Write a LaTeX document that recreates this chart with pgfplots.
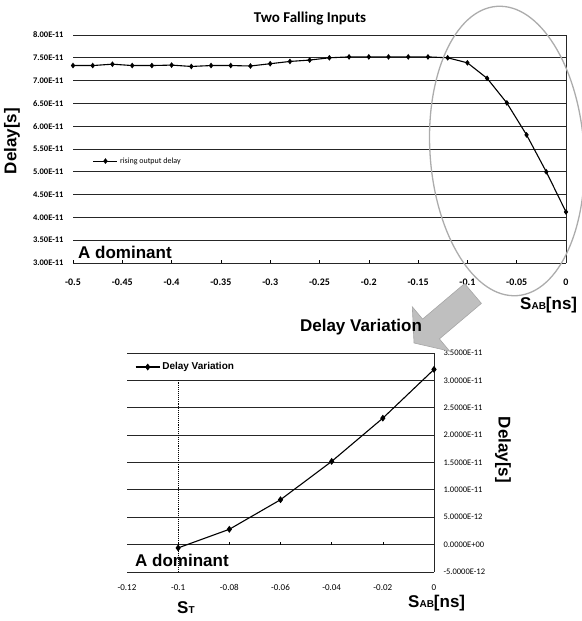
\documentclass[border=0pt]{standalone}
\usepackage{pgfplots}
\pgfplotsset{compat=1.18}
\usepackage{fontspec}
\setmainfont{Liberation Sans}
\newfontfamily\carlito{Carlito}
\newfontfamily\arial{Liberation Sans}

\begin{document}
\begin{tikzpicture}[x=1pt,y=1pt]
\useasboundingbox (0,0) rectangle (581,621);

% ---------------- top chart ----------------
\begin{axis}[
  at={(73pt,358pt)}, anchor=south west, scale only axis,
  width=493pt, height=228pt,
  xmin=-0.5, xmax=0, ymin=3, ymax=8,
  xtick={-0.5,-0.45,-0.4,-0.35,-0.3,-0.25,-0.2,-0.15,-0.1,-0.05,0},
  xticklabels={-0.5,-0.45,-0.4,-0.35,-0.3,-0.25,-0.2,-0.15,-0.1,-0.05,0},
  ytick={3,3.5,4,4.5,5,5.5,6,6.5,7,7.5,8},
  yticklabels={3.00E-11,3.50E-11,4.00E-11,4.50E-11,5.00E-11,5.50E-11,6.00E-11,6.50E-11,7.00E-11,7.50E-11,8.00E-11},
  ymajorgrids, grid style={black!85, line width=0.8pt},
  axis line style={draw=none},
  xtick pos=left, xtick align=inside, major tick length=3pt,
  xtick style={black, line width=0.6pt},
  ytick style={draw=none},
  xticklabel style={font=\carlito\bfseries\fontsize{10}{10}\selectfont, yshift=-12pt},
  yticklabel style={font=\carlito\bfseries\fontsize{8.5}{9}\selectfont, xshift=-6pt},
  clip=false,
  legend style={at={(0.04,0.447)}, anchor=west, draw=none, fill=none,
    font=\carlito\fontsize{8}{8}\selectfont, inner sep=0pt},
  legend image code/.code={\draw[mark repeat=2,mark phase=2] plot coordinates {(0pt,0pt) (12pt,0pt) (24pt,0pt)};},
]
\addplot[black, line width=1.1pt, mark=diamond*, mark size=2pt] coordinates {
(-0.50,7.33) (-0.48,7.33) (-0.46,7.36) (-0.44,7.33) (-0.42,7.33) (-0.40,7.34)
(-0.38,7.31) (-0.36,7.33) (-0.34,7.33) (-0.32,7.32) (-0.30,7.37) (-0.28,7.42)
(-0.26,7.45) (-0.24,7.50) (-0.22,7.52) (-0.20,7.52) (-0.18,7.52) (-0.16,7.52)
(-0.14,7.52) (-0.12,7.50) (-0.10,7.39) (-0.08,7.05) (-0.06,6.51) (-0.04,5.81)
(-0.02,5.00) (0,4.12)};
\addlegendentry{rising output delay}
\draw[black!85, line width=0.8pt] (rel axis cs:1,0) -- (rel axis cs:1,1);
\end{axis}

% ---------------- bottom chart ----------------
\begin{axis}[
  at={(127pt,49pt)}, anchor=south west, scale only axis,
  width=307pt, height=219pt,
  xmin=-0.12, xmax=0, ymin=-0.5, ymax=3.5,
  xtick={-0.12,-0.1,-0.08,-0.06,-0.04,-0.02,0},
  xticklabels={-0.12,-0.1,-0.08,-0.06,-0.04,-0.02,0},
  ytick={-0.5,0,0.5,1,1.5,2,2.5,3,3.5},
  yticklabels={-5.0000E-12,0.0000E+00,5.0000E-12,1.0000E-11,1.5000E-11,2.0000E-11,2.5000E-11,3.0000E-11,3.5000E-11},
  yticklabel pos=right,
  ymajorgrids, grid style={black!85, line width=0.8pt},
  axis line style={draw=none},
  xtick style={draw=none}, ytick style={draw=none},
  xticklabel style={font=\carlito\fontsize{9}{9}\selectfont, yshift=-9pt},
  yticklabel style={font=\carlito\fontsize{8.5}{9}\selectfont, xshift=6pt},
  clip=false,
  legend style={at={(0.026,0.936)}, anchor=west, draw=none, fill=none,
    font=\arial\bfseries\fontsize{10}{10}\selectfont, inner sep=0pt},
  legend image code/.code={\draw[mark repeat=2,mark phase=2] plot coordinates {(0pt,0pt) (12pt,0pt) (24pt,0pt)};},
]
\addplot[black, line width=1.1pt, mark=diamond*, mark size=2.6pt] coordinates {
(-0.10,-0.06) (-0.08,0.28) (-0.06,0.82) (-0.04,1.52) (-0.02,2.31) (0,3.20)};
\addlegendentry{Delay Variation}
\addplot[black, line width=1.1pt, densely dotted, forget plot] coordinates {(-0.1,3.0) (-0.1,-0.5)};
\draw[black!85, line width=0.8pt] (rel axis cs:1,0) -- (rel axis cs:1,1);
\pgfplotsinvokeforeach{-0.1,-0.08,-0.06,-0.04,-0.02}{
  \draw[black, line width=0.6pt] (axis cs:#1,0) -- ++(0pt,3pt);
}
\end{axis}

% ---------------- annotations ----------------
\draw[gray!65, line width=1.3pt, rotate around={4:(507,470)}] (507,470) ellipse (77 and 145);
\draw[gray!70, fill=gray!50, line width=0.6pt]
  (464.6,337.4) -- (481.4,317.6) -- (439.4,282.1) -- (449.7,269.8)
  -- (414,278) -- (412.3,314.2) -- (422.6,301.9) -- cycle;

\node[font=\carlito\bfseries\fontsize{15}{15}\selectfont] at (310,602) {Two Falling Inputs};
\node[font=\arial\bfseries\fontsize{17}{17}\selectfont, rotate=90] at (12,480) {Delay[s]};
\node[font=\arial\bfseries\fontsize{17}{17}\selectfont, anchor=west, inner sep=0pt] at (78,369) {A dominant};
\node[font=\arial\bfseries\fontsize{17}{17}\selectfont, anchor=west, inner sep=0pt] at (520,316)
  {S{\fontsize{10}{10}\selectfont AB}[ns]};
\node[font=\arial\bfseries\fontsize{17}{17}\selectfont] at (361,294) {Delay Variation};
\node[font=\arial\bfseries\fontsize{17}{17}\selectfont, rotate=-90] at (503,171) {Delay[s]};
\node[font=\arial\bfseries\fontsize{17}{17}\selectfont, anchor=west, inner sep=0pt] at (135,61) {A dominant};
\node[font=\arial\bfseries\fontsize{17}{17}\selectfont, anchor=west, inner sep=0pt] at (408,18)
  {S{\fontsize{10}{10}\selectfont AB}[ns]};
\node[font=\arial\bfseries\fontsize{17}{17}\selectfont, anchor=west, inner sep=0pt] at (177,13)
  {S{\fontsize{10}{10}\selectfont T}};
\end{tikzpicture}
\end{document}
